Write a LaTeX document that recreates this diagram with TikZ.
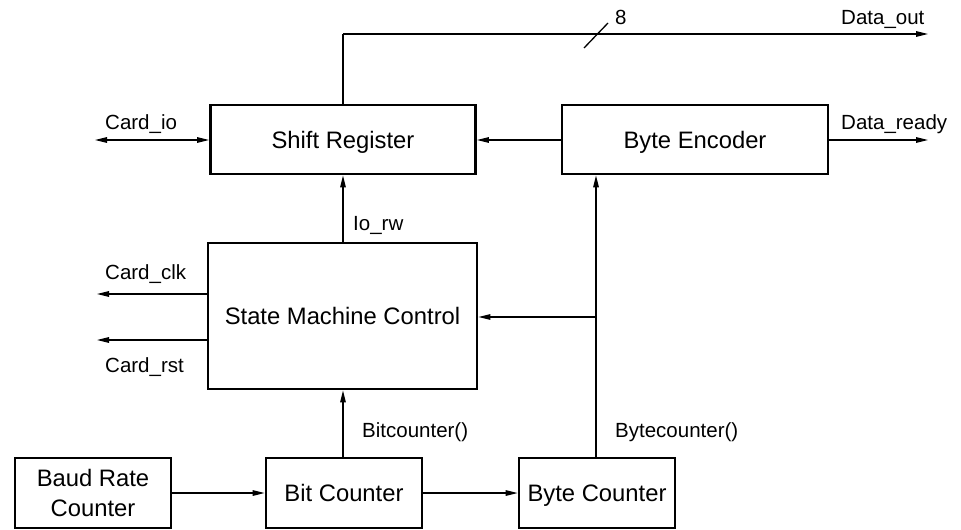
\documentclass[tikz,border=0pt]{standalone}
\usepackage{fontspec}
\setmainfont{Liberation Sans}
\usetikzlibrary{arrows.meta}
\begin{document}
\begin{tikzpicture}[x=1pt,y=-1pt,
  block/.style={draw,line width=2.6pt,inner sep=0pt,align=center,
    font=\fontsize{23.8}{30}\selectfont},
  oneline/.style={text height=17.2pt,text depth=0pt},
  wire/.style={line width=1.3pt},
  sig/.style={wire,-{Triangle[length=12pt,width=5.5pt]}},
  bisig/.style={wire,{Triangle[length=12pt,width=5.5pt]}-{Triangle[length=12pt,width=5.5pt]}},
  lbl/.style={anchor=base west,inner sep=0pt,font=\fontsize{20.5}{24}\selectfont}]
\useasboundingbox (0,0) rectangle (961,530);

% blocks
\node[block,oneline,minimum width=265pt,minimum height=69pt] (shift) at (343,139.5) {Shift Register};
\node[block,oneline,minimum width=266pt,minimum height=69pt] (enc) at (695,139.5) {Byte Encoder};
\node[block,oneline,minimum width=269pt,minimum height=146pt] (smc) at (342.5,316) {State Machine Control};
\node[block,minimum width=156pt,minimum height=70pt] (baud) at (93,493) {Baud Rate\\Counter};
\node[block,oneline,minimum width=156pt,minimum height=70pt] (bit) at (344,493) {Bit Counter};
\node[block,oneline,minimum width=156pt,minimum height=70pt] (byte) at (597,493) {Byte Counter};

% free ends and bends
\coordinate (outbend) at (343,34);
\coordinate (dout) at (928,34);
\coordinate (dready) at (928,140);
\coordinate (cio) at (95,140);
\coordinate (cclk) at (97,294);
\coordinate (crst) at (97,340);
\coordinate (tap) at (596,317);
\coordinate (slashA) at (584,48);
\coordinate (slashB) at (608,23);

% data output bus
\draw[wire] (shift.north) -- (outbend);
\draw[sig] (outbend) -- (dout);
\draw[wire] (slashA) -- (slashB);
\node[lbl] (bw) at (615,24) {8};
\node[lbl] (doutl) at (841,24) {Data\_out};

% shift register and encoder
\draw[bisig] (shift.west |- cio) -- (cio);
\node[lbl] (ciol) at (105,129) {Card\_io};
\draw[sig] (enc.west |- dready) -- (shift.east |- dready);
\draw[sig] (enc.east |- dready) -- (dready);
\node[lbl] (dreadyl) at (841,129) {Data\_ready};

% state machine
\draw[sig] (smc.north -| outbend) -- (shift.south -| outbend);
\node[lbl] (iorw) at (353,230) {Io\_rw};
\draw[sig] (smc.west |- cclk) -- (cclk);
\node[lbl] (cclkl) at (105,279) {Card\_clk};
\draw[sig] (smc.west |- crst) -- (crst);
\node[lbl] (crstl) at (105,372) {Card\_rst};

% counters
\draw[sig] (bit.north -| outbend) -- (smc.south -| outbend);
\node[lbl] (bitl) at (362,437) {Bitcounter()};
\draw[sig] (baud.east) -- (bit.west);
\draw[sig] (bit.east) -- (byte.west);
\draw[sig] (byte.north -| tap) -- (enc.south -| tap);
\draw[sig] (tap) -- (smc.east |- tap);
\node[lbl] (bytel) at (615,437) {Bytecounter()};
\end{tikzpicture}
\end{document}
